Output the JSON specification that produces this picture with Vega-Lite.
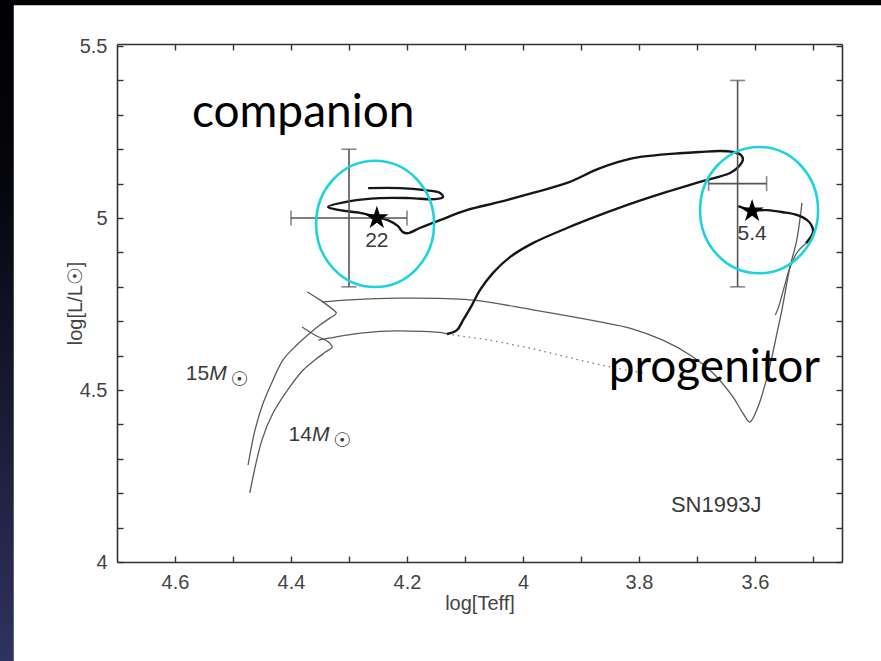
{
  "$schema": "https://vega.github.io/schema/vega-lite/v6.json",
  "width": 725,
  "height": 518,
  "autosize": {"type": "none"},
  "padding": {"left": 117, "top": 44, "right": 39, "bottom": 99},
  "background": "#000000",
  "config": {
    "view": {"stroke": null},
    "axis": {
      "domainColor": "#333333",
      "domainWidth": 1.6,
      "tickColor": "#333333",
      "tickWidth": 1.4,
      "tickSize": -6,
      "labelFont": "Liberation Sans",
      "labelFontSize": 20,
      "labelColor": "#444444",
      "titleFont": "Liberation Sans",
      "titleFontSize": 20,
      "titleFontWeight": "normal",
      "titleColor": "#444444",
      "grid": false
    }
  },
  "datasets": {
    "tracks": [
      {"s": "U1", "i": 0, "x": 4.474, "y": 4.282},
      {"s": "U1", "i": 1, "x": 4.462, "y": 4.384},
      {"s": "U1", "i": 2, "x": 4.448, "y": 4.462},
      {"s": "U1", "i": 3, "x": 4.431, "y": 4.529},
      {"s": "U1", "i": 4, "x": 4.414, "y": 4.587},
      {"s": "U1", "i": 5, "x": 4.39, "y": 4.631},
      {"s": "U1", "i": 6, "x": 4.367, "y": 4.666},
      {"s": "U1", "i": 7, "x": 4.35, "y": 4.689},
      {"s": "U1", "i": 8, "x": 4.333, "y": 4.709},
      {"s": "U1", "i": 9, "x": 4.322, "y": 4.724},
      {"s": "U1", "i": 10, "x": 4.333, "y": 4.741},
      {"s": "U1", "i": 11, "x": 4.35, "y": 4.762},
      {"s": "U1", "i": 12, "x": 4.372, "y": 4.785},
      {"s": "U2", "i": 0, "x": 4.347, "y": 4.756},
      {"s": "U2", "i": 1, "x": 4.298, "y": 4.762},
      {"s": "U2", "i": 2, "x": 4.217, "y": 4.767},
      {"s": "U2", "i": 3, "x": 4.091, "y": 4.762},
      {"s": "U2", "i": 4, "x": 3.983, "y": 4.733},
      {"s": "U2", "i": 5, "x": 3.867, "y": 4.698},
      {"s": "U2", "i": 6, "x": 3.816, "y": 4.68},
      {"s": "U2", "i": 7, "x": 3.759, "y": 4.645},
      {"s": "U2", "i": 8, "x": 3.712, "y": 4.602},
      {"s": "U2", "i": 9, "x": 3.672, "y": 4.549},
      {"s": "U2", "i": 10, "x": 3.638, "y": 4.48},
      {"s": "U2", "i": 11, "x": 3.621, "y": 4.433},
      {"s": "U2", "i": 12, "x": 3.609, "y": 4.407},
      {"s": "U2", "i": 13, "x": 3.597, "y": 4.442},
      {"s": "U2", "i": 14, "x": 3.579, "y": 4.538},
      {"s": "U2", "i": 15, "x": 3.562, "y": 4.666},
      {"s": "U2", "i": 16, "x": 3.553, "y": 4.738},
      {"s": "U2", "i": 17, "x": 3.54, "y": 4.855},
      {"s": "U2", "i": 18, "x": 3.528, "y": 4.936},
      {"s": "U2", "i": 19, "x": 3.519, "y": 5.044},
      {"s": "L1", "i": 0, "x": 4.471, "y": 4.201},
      {"s": "L1", "i": 1, "x": 4.45, "y": 4.355},
      {"s": "L1", "i": 2, "x": 4.431, "y": 4.433},
      {"s": "L1", "i": 3, "x": 4.402, "y": 4.509},
      {"s": "L1", "i": 4, "x": 4.379, "y": 4.558},
      {"s": "L1", "i": 5, "x": 4.359, "y": 4.587},
      {"s": "L1", "i": 6, "x": 4.34, "y": 4.611},
      {"s": "L1", "i": 7, "x": 4.329, "y": 4.625},
      {"s": "L1", "i": 8, "x": 4.336, "y": 4.64},
      {"s": "L1", "i": 9, "x": 4.359, "y": 4.66},
      {"s": "L1", "i": 10, "x": 4.381, "y": 4.683},
      {"s": "L2", "i": 0, "x": 4.353, "y": 4.645},
      {"s": "L2", "i": 1, "x": 4.276, "y": 4.666},
      {"s": "L2", "i": 2, "x": 4.217, "y": 4.672},
      {"s": "L2", "i": 3, "x": 4.138, "y": 4.666},
      {"s": "L2", "i": 4, "x": 4.131, "y": 4.663},
      {"s": "P2", "i": 0, "x": 3.512, "y": 4.927},
      {"s": "P2", "i": 1, "x": 3.527, "y": 4.901},
      {"s": "P2", "i": 2, "x": 3.54, "y": 4.855},
      {"s": "P2", "i": 3, "x": 3.55, "y": 4.797},
      {"s": "P2", "i": 4, "x": 3.56, "y": 4.738},
      {"s": "P2", "i": 5, "x": 3.565, "y": 4.718}
    ],
    "dotted": [
      {"i": 0, "x": 4.131, "y": 4.663},
      {"i": 1, "x": 4.057, "y": 4.645},
      {"i": 2, "x": 3.988, "y": 4.622},
      {"i": 3, "x": 3.902, "y": 4.587},
      {"i": 4, "x": 3.85, "y": 4.567},
      {"i": 5, "x": 3.79, "y": 4.549}
    ],
    "binary": [
      {"s": "T", "i": 0, "x": 4.131, "y": 4.663},
      {"s": "T", "i": 1, "x": 4.114, "y": 4.674},
      {"s": "T", "i": 2, "x": 4.103, "y": 4.704},
      {"s": "T", "i": 3, "x": 4.088, "y": 4.747},
      {"s": "T", "i": 4, "x": 4.074, "y": 4.791},
      {"s": "T", "i": 5, "x": 4.052, "y": 4.84},
      {"s": "T", "i": 6, "x": 4.022, "y": 4.887},
      {"s": "T", "i": 7, "x": 3.983, "y": 4.927},
      {"s": "T", "i": 8, "x": 3.924, "y": 4.971},
      {"s": "T", "i": 9, "x": 3.867, "y": 5.009},
      {"s": "T", "i": 10, "x": 3.81, "y": 5.044},
      {"s": "T", "i": 11, "x": 3.752, "y": 5.076},
      {"s": "T", "i": 12, "x": 3.695, "y": 5.105},
      {"s": "T", "i": 13, "x": 3.643, "y": 5.131},
      {"s": "T", "i": 14, "x": 3.629, "y": 5.148},
      {"s": "T", "i": 15, "x": 3.621, "y": 5.169},
      {"s": "T", "i": 16, "x": 3.624, "y": 5.183},
      {"s": "T", "i": 17, "x": 3.638, "y": 5.192},
      {"s": "T", "i": 18, "x": 3.66, "y": 5.195},
      {"s": "T", "i": 19, "x": 3.695, "y": 5.192},
      {"s": "T", "i": 20, "x": 3.724, "y": 5.189},
      {"s": "T", "i": 21, "x": 3.81, "y": 5.174},
      {"s": "T", "i": 22, "x": 3.867, "y": 5.145},
      {"s": "T", "i": 23, "x": 3.924, "y": 5.102},
      {"s": "T", "i": 24, "x": 3.983, "y": 5.073},
      {"s": "T", "i": 25, "x": 4.04, "y": 5.047},
      {"s": "T", "i": 26, "x": 4.097, "y": 5.023},
      {"s": "T", "i": 27, "x": 4.143, "y": 4.994},
      {"s": "T", "i": 28, "x": 4.178, "y": 4.971},
      {"s": "T", "i": 29, "x": 4.198, "y": 4.956},
      {"s": "T", "i": 30, "x": 4.207, "y": 4.959},
      {"s": "T", "i": 31, "x": 4.216, "y": 4.977},
      {"s": "T", "i": 32, "x": 4.233, "y": 4.994},
      {"s": "T", "i": 33, "x": 4.252, "y": 5.003},
      {"s": "T", "i": 34, "x": 4.281, "y": 5.015},
      {"s": "T", "i": 35, "x": 4.316, "y": 5.023},
      {"s": "T", "i": 36, "x": 4.336, "y": 5.032},
      {"s": "T", "i": 37, "x": 4.298, "y": 5.049},
      {"s": "T", "i": 38, "x": 4.247, "y": 5.058},
      {"s": "T", "i": 39, "x": 4.195, "y": 5.058},
      {"s": "T", "i": 40, "x": 4.152, "y": 5.055},
      {"s": "T", "i": 41, "x": 4.138, "y": 5.061},
      {"s": "T", "i": 42, "x": 4.143, "y": 5.073},
      {"s": "T", "i": 43, "x": 4.169, "y": 5.081},
      {"s": "T", "i": 44, "x": 4.212, "y": 5.087},
      {"s": "T", "i": 45, "x": 4.267, "y": 5.087},
      {"s": "P1", "i": 0, "x": 3.629, "y": 5.035},
      {"s": "P1", "i": 1, "x": 3.605, "y": 5.023},
      {"s": "P1", "i": 2, "x": 3.579, "y": 5.023},
      {"s": "P1", "i": 3, "x": 3.552, "y": 5.017},
      {"s": "P1", "i": 4, "x": 3.528, "y": 5.009},
      {"s": "P1", "i": 5, "x": 3.51, "y": 4.994},
      {"s": "P1", "i": 6, "x": 3.502, "y": 4.977},
      {"s": "P1", "i": 7, "x": 3.5, "y": 4.959},
      {"s": "P1", "i": 8, "x": 3.505, "y": 4.942},
      {"s": "P1", "i": 9, "x": 3.512, "y": 4.927}
    ],
    "stars": [
      {"name": "companion", "x": 4.252, "y": 5.0, "mass": "22", "cx": 4.3, "cy": 5.0, "xlo": 4.4, "xhi": 4.2, "ylo": 4.8, "yhi": 5.2, "ex": 4.255, "ey": 4.983, "tx": 4.379, "ty": 5.264},
      {"name": "progenitor", "x": 3.605, "y": 5.02, "mass": "5.4", "cx": 3.63, "cy": 5.1, "xlo": 3.68, "xhi": 3.58, "ylo": 4.8, "yhi": 5.4, "ex": 3.593, "ey": 5.023, "tx": 3.67, "ty": 4.523}
    ],
    "masses": [
      {"num": "15", "x": 4.541, "y": 4.529},
      {"num": "14", "x": 4.364, "y": 4.352}
    ],
    "notes": [
      {"label": "SN1993J", "x": 3.667, "y": 4.145}
    ]
  },
  "resolve": {"axis": {"x": "independent", "y": "independent"}},
  "layer": [
    {
      "data": {"name": "notes"},
      "mark": {"type": "rect", "clip": false, "fill": {"gradient": "linear", "x1": 0, "y1": 0, "x2": 0, "y2": 1, "stops": [{"offset": 0, "color": "#000000"}, {"offset": 0.3, "color": "#05050c"}, {"offset": 1, "color": "#353a6c"}]}},
      "encoding": {
        "x": {"datum": 5.0, "type": "quantitative", "axis": null},
        "x2": {"datum": 3.0},
        "y": {"datum": 3.5, "type": "quantitative", "axis": null},
        "y2": {"datum": 5.8}
      }
    },
    {
      "data": {"name": "notes"},
      "mark": {"type": "rect", "clip": false, "fill": "#ffffff"},
      "encoding": {
        "x": {"datum": 4.878, "type": "quantitative", "axis": null},
        "x2": {"datum": 3.0},
        "y": {"datum": 3.5, "type": "quantitative", "axis": null},
        "y2": {"datum": 5.619}
      }
    },
    {
      "data": {"name": "tracks"},
      "mark": {"type": "line", "color": "#5a5a5a", "strokeWidth": 1.3, "interpolate": "catmull-rom"},
      "encoding": {
        "x": {"field": "x", "type": "quantitative",
          "scale": {"domain": [3.45, 4.7], "reverse": true, "nice": false, "zero": false},
          "axis": {"orient": "bottom", "zindex": 2, "title": "log[Teff]", "titlePadding": 1,
            "values": [3.5, 3.6, 3.7, 3.8, 3.9, 4.0, 4.1, 4.2, 4.3, 4.4, 4.5, 4.6],
            "labelExpr": "round(datum.value * 10) % 2 == 0 ? format(datum.value, '.1~f') : ''",
            "labelPadding": 16}},
        "y": {"field": "y", "type": "quantitative",
          "scale": {"domain": [4.0, 5.506], "nice": false, "zero": false},
          "axis": {"orient": "left", "zindex": 2, "title": "log[L/L☉]", "titlePadding": -6,
            "values": [4.0, 4.1, 4.2, 4.3, 4.4, 4.5, 4.6, 4.7, 4.8, 4.9, 5.0, 5.1, 5.2, 5.3, 5.4, 5.5],
            "labelExpr": "round(datum.value * 10) % 5 == 0 ? format(datum.value, '.1~f') : ''",
            "labelPadding": 16}},
        "detail": {"field": "s", "type": "nominal"},
        "order": {"field": "i", "type": "quantitative"}
      }
    },
    {
      "data": {"name": "dotted"},
      "mark": {"type": "line", "color": "#777777", "strokeWidth": 1.3, "strokeDash": [1.5, 4]},
      "encoding": {
        "x": {"field": "x", "type": "quantitative", "axis": null},
        "y": {"field": "y", "type": "quantitative", "axis": null},
        "order": {"field": "i", "type": "quantitative"}
      }
    },
    {
      "data": {"name": "binary"},
      "mark": {"type": "line", "color": "#161616", "strokeWidth": 2.4, "interpolate": "catmull-rom"},
      "encoding": {
        "x": {"field": "x", "type": "quantitative", "axis": null},
        "y": {"field": "y", "type": "quantitative", "axis": null},
        "detail": {"field": "s", "type": "nominal"},
        "order": {"field": "i", "type": "quantitative"}
      }
    },
    {
      "data": {"name": "stars"},
      "mark": {"type": "errorbar", "ticks": {"size": 15, "color": "#555555", "thickness": 1.6}, "rule": {"color": "#555555", "strokeWidth": 1.6}},
      "encoding": {
        "x": {"field": "cx", "type": "quantitative", "axis": null},
        "y": {"field": "ylo", "type": "quantitative", "axis": null},
        "y2": {"field": "yhi"}
      }
    },
    {
      "data": {"name": "stars"},
      "mark": {"type": "errorbar", "ticks": {"size": 15, "color": "#555555", "thickness": 1.6}, "rule": {"color": "#555555", "strokeWidth": 1.6}},
      "encoding": {
        "y": {"field": "cy", "type": "quantitative", "axis": null},
        "x": {"field": "xlo", "type": "quantitative", "axis": null},
        "x2": {"field": "xhi"}
      }
    },
    {
      "data": {"name": "stars"},
      "mark": {"type": "point", "shape": "M -1 0 A 1 1.07 0 1 1 1 0 A 1 1.07 0 1 1 -1 0 Z", "size": 13924, "filled": false, "stroke": "#1fd3de", "strokeWidth": 2.6, "opacity": 1},
      "encoding": {
        "x": {"field": "ex", "type": "quantitative", "axis": null},
        "y": {"field": "ey", "type": "quantitative", "axis": null}
      }
    },
    {
      "data": {"name": "stars"},
      "mark": {"type": "point", "shape": "M0,-1 L0.225,-0.309 L0.951,-0.309 L0.363,0.118 L0.588,0.809 L0,0.382 L-0.588,0.809 L-0.363,0.118 L-0.951,-0.309 L-0.225,-0.309 Z", "filled": true, "color": "#000000", "size": 600, "opacity": 1},
      "encoding": {
        "x": {"field": "x", "type": "quantitative",
          "axis": {"orient": "top", "zindex": 2, "title": null, "labels": false,
            "values": [3.5, 3.6, 3.7, 3.8, 3.9, 4.0, 4.1, 4.2, 4.3, 4.4, 4.5, 4.6]}},
        "y": {"field": "y", "type": "quantitative",
          "axis": {"orient": "right", "zindex": 2, "title": null, "labels": false,
            "values": [4.0, 4.1, 4.2, 4.3, 4.4, 4.5, 4.6, 4.7, 4.8, 4.9, 5.0, 5.1, 5.2, 5.3, 5.4, 5.5]}}
      }
    },
    {
      "data": {"name": "stars"},
      "mark": {"type": "text", "font": "Liberation Sans", "fontSize": 21, "color": "#3a3a3a", "align": "center", "baseline": "top", "dy": 12},
      "encoding": {
        "x": {"field": "x", "type": "quantitative", "axis": null},
        "y": {"field": "y", "type": "quantitative", "axis": null},
        "text": {"field": "mass"}
      }
    },
    {
      "data": {"name": "notes"},
      "mark": {"type": "text", "font": "Liberation Sans", "fontSize": 22, "color": "#3a3a3a", "align": "center", "baseline": "alphabetic"},
      "encoding": {
        "x": {"field": "x", "type": "quantitative", "axis": null},
        "y": {"field": "y", "type": "quantitative", "axis": null},
        "text": {"field": "label"}
      }
    },
    {
      "data": {"name": "masses"},
      "mark": {"type": "text", "font": "Liberation Sans", "fontSize": 21, "color": "#3a3a3a", "align": "right", "baseline": "alphabetic"},
      "encoding": {
        "x": {"field": "x", "type": "quantitative", "axis": null},
        "y": {"field": "y", "type": "quantitative", "axis": null},
        "text": {"field": "num"}
      }
    },
    {
      "data": {"name": "masses"},
      "mark": {"type": "text", "font": "Liberation Sans", "fontSize": 21, "fontStyle": "italic", "color": "#3a3a3a", "align": "left", "baseline": "alphabetic", "text": "M"},
      "encoding": {
        "x": {"field": "x", "type": "quantitative", "axis": null},
        "y": {"field": "y", "type": "quantitative", "axis": null}
      }
    },
    {
      "data": {"name": "masses"},
      "mark": {"type": "text", "font": "DejaVu Sans", "fontSize": 20, "color": "#3a3a3a", "align": "left", "baseline": "alphabetic", "text": "☉", "dx": 21, "dy": 6},
      "encoding": {
        "x": {"field": "x", "type": "quantitative", "axis": null},
        "y": {"field": "y", "type": "quantitative", "axis": null}
      }
    },
    {
      "data": {"name": "stars"},
      "mark": {"type": "text", "font": "Lato", "fontSize": 46, "color": "#000000", "align": "center", "baseline": "alphabetic"},
      "encoding": {
        "x": {"field": "tx", "type": "quantitative", "axis": null},
        "y": {"field": "ty", "type": "quantitative", "axis": null},
        "text": {"field": "name"}
      }
    }
  ]
}
